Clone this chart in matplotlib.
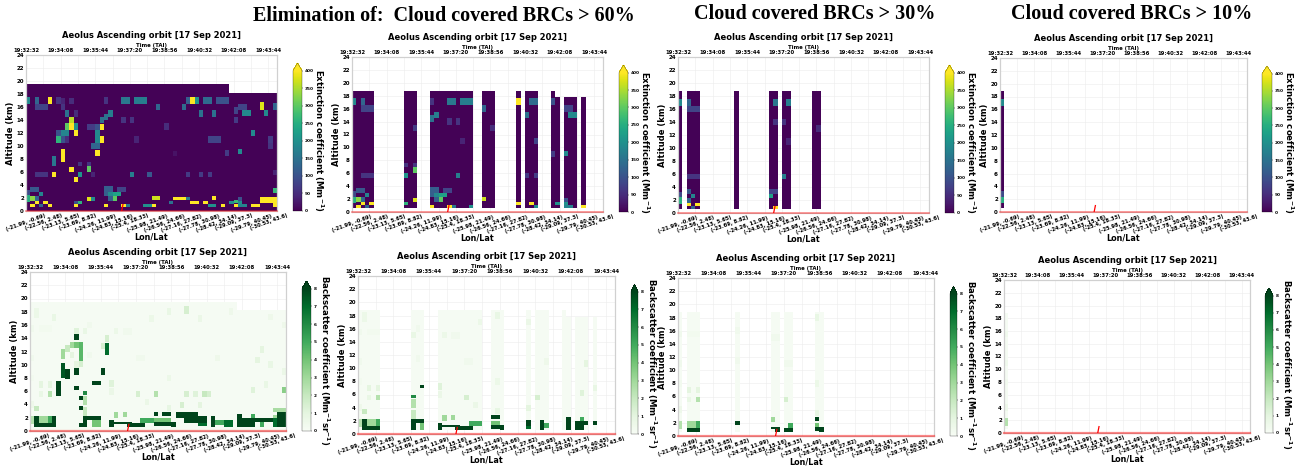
import numpy as np
import matplotlib
matplotlib.use("Agg")
import matplotlib.pyplot as plt

W, H = 1298, 471
plt.rcParams['font.family'] = ['DejaVu Sans']
plt.rcParams['font.weight'] = 'bold'
plt.rcParams['axes.labelweight'] = 'bold'
plt.rcParams['mathtext.default'] = 'bf'

TITLE = "Aeolus Ascending orbit [17 Sep 2021]"
TIME_LABELS = ["19:32:32", "19:34:08", "19:35:44", "19:37:20",
               "19:38:56", "19:40:32", "19:42:08", "19:43:44"]
LONLAT_LABELS = ["(-21.99, -0.69)", "(-22.56, 2.48)", "(-23.13, 5.65)", "(-23.69, 8.82)",
                 "(-24.26, 11.99)", "(-24.83, 15.16)", "(-25.4, 18.33)", "(-25.98, 21.49)",
                 "(-26.56, 24.66)", "(-27.16, 27.82)", "(-27.78, 30.98)", "(-28.42, 34.14)",
                 "(-29.09, 37.3)", "(-29.79, 40.45)", "(-30.53, 43.6)"]
HEADINGS = ["Elimination of:  Cloud covered BRCs > 60%",
            "Cloud covered BRCs > 30%", "Cloud covered BRCs > 10%"]

N_COLS = 58
# Profiles kept after each cloud-cover elimination threshold
KEPT_ALL = list(range(N_COLS))
KEPT_60 = [0, 1, 2, 3, 4, 12, 13, 14] + list(range(18, 28)) + [30, 31, 32, 38, 40, 41, 42, 46, 47, 49, 50, 51, 53]
KEPT_30 = [0, 2, 3, 4, 13, 21, 22, 24, 25, 31, 32]
KEPT_10 = [0]

EXT_BACKGROUND = 3.0
# column from, column to (inclusive), altitude bottom, altitude top, Mm-1
EXT_CELLS = [
    (0, 0, 16.5, 17.6, 190), (2, 2, 16.5, 17.6, 130), (7, 7, 16.5, 17.6, 60), (5, 5, 16.5, 17.6, 400),
    (8, 8, 16.5, 17.4, 40), (10, 10, 16.5, 17.4, 50), (18, 18, 16.5, 17.6, 60), (22, 23, 16.5, 17.6, 160),
    (25, 27, 16.5, 17.6, 170), (37, 37, 16.5, 17.6, 120), (38, 38, 16.5, 17.6, 400), (39, 39, 16.5, 17.6, 210),
    (41, 42, 16.5, 17.6, 140), (44, 46, 16.5, 17.6, 100),
    (2, 4, 15.5, 16.5, 80), (8, 8, 15.5, 16.5, 60), (30, 30, 15.5, 16.5, 130), (36, 36, 15.5, 16.5, 140),
    (48, 48, 15, 16, 80), (49, 50, 15.5, 16.5, 80), (54, 54, 15.6, 16.7, 380), (57, 57, 15.6, 16.6, 130),
    (9, 9, 14.5, 15.5, 150), (11, 11, 14.5, 15.5, 50), (19, 19, 14.5, 15.5, 170), (40, 40, 14.5, 15.5, 150),
    (43, 43, 14.5, 15.5, 150), (50, 51, 14.6, 15.5, 190), (55, 55, 14.6, 15.5, 190),
    (10, 10, 13.5, 14.5, 360), (18, 18, 14, 15, 150), (17, 17, 13.5, 14.4, 150), (22, 22, 13.5, 14.5, 60),
    (24, 24, 13.5, 14.5, 60), (48, 48, 13.5, 14.5, 70),
    (9, 9, 12.5, 13.5, 300), (10, 10, 12.5, 13.5, 400), (11, 11, 12.5, 13.5, 200), (14, 15, 12.5, 13.4, 70),
    (16, 16, 12.5, 13.4, 100), (17, 17, 12.5, 13.4, 400), (32, 32, 12.5, 13.5, 50),
    (7, 7, 11.5, 12.5, 100), (8, 9, 11.5, 12.5, 180), (11, 11, 11.5, 12.5, 400), (16, 16, 11.5, 12.5, 190),
    (52, 52, 11.5, 12.5, 190),
    (7, 7, 10.5, 11.5, 260), (8, 8, 10.5, 11.5, 100), (9, 9, 10.5, 11.5, 50), (16, 16, 10.5, 11.5, 190),
    (17, 17, 10.5, 11.5, 400), (25, 25, 10.5, 11.5, 40), (42, 44, 10.5, 11.5, 80), (56, 56, 10.5, 11.6, 70),
    (15, 16, 9.5, 10.5, 130), (56, 56, 9.6, 10.5, 60),
    (8, 8, 7.6, 9.5, 400), (16, 16, 8.5, 9.4, 400), (46, 46, 8.5, 9.4, 70), (49, 49, 8.7, 9.5, 190),
    (34, 34, 8.5, 9.2, 20),
    (6, 6, 6.9, 8.5, 160), (12, 12, 7, 7.6, 60), (14, 14, 7, 7.6, 60),
    (14, 14, 6, 6.9, 300), (10, 10, 6, 6.8, 400),
    (2, 4, 5.2, 6, 60), (6, 6, 5.2, 6, 400), (12, 12, 5.2, 6, 210), (15, 15, 5.2, 6, 40), (24, 24, 5.2, 6, 170),
    (28, 28, 5.2, 6, 110), (37, 37, 5.2, 6, 70), (40, 40, 5.2, 6, 70), (42, 42, 5.2, 6, 70), (57, 57, 5.5, 6.3, 40),
    (11, 11, 4.5, 5.3, 400),
    (1, 2, 3, 3.7, 110), (18, 19, 3, 3.8, 120), (21, 22, 3, 3.7, 80), (57, 57, 2.8, 3.6, 270),
    (0, 0, 2.4, 3.3, 90), (3, 3, 2.3, 3, 180), (18, 18, 2.3, 3, 120), (19, 19, 2.3, 3, 190), (20, 21, 2.3, 3, 230),
    (0, 0, 1.4, 2.4, 250), (1, 1, 1.6, 2.3, 330), (2, 2, 1.6, 2.3, 130), (14, 14, 1.6, 2.2, 380),
    (15, 15, 1.6, 2.2, 190), (20, 20, 1.6, 2.3, 300), (29, 30, 1.7, 2.3, 370), (34, 36, 1.7, 2.2, 400),
    (37, 37, 1.7, 2.2, 170), (43, 43, 1.7, 2.3, 400), (54, 57, 1.3, 2.2, 400), (19, 19, 1.6, 2.3, 120),
    (49, 49, 1.6, 2.2, 100),
    (2, 2, 1.1, 1.6, 400), (4, 4, 1.1, 1.6, 400), (12, 12, 1.1, 1.6, 260), (11, 11, 1.1, 1.6, 100),
    (33, 33, 1.1, 1.6, 150), (38, 39, 1.1, 1.6, 400), (41, 41, 1.1, 1.6, 400), (47, 47, 1.1, 1.6, 200),
    (48, 48, 1.2, 1.7, 270), (49, 49, 1.1, 1.6, 200),
    (1, 1, 0.6, 1.1, 400), (3, 3, 0.6, 1.1, 130), (5, 5, 0.6, 1.1, 400), (11, 11, 0.6, 1.1, 400),
    (18, 18, 0.6, 1.1, 400), (22, 22, 0.6, 1.1, 400), (23, 23, 0.6, 1.1, 160), (27, 28, 0.6, 1.1, 200),
    (29, 29, 0.6, 1.1, 400), (42, 43, 0.6, 1.1, 200), (45, 45, 0.6, 1.1, 400), (48, 48, 0.6, 1.1, 400),
    (49, 50, 0.6, 1.1, 180), (52, 53, 0.6, 1.1, 400), (57, 57, 0.6, 1.3, 400),
]

BSC_BACKGROUND = 0.1
# column from, column to (inclusive), altitude bottom, altitude top, Mm-1 sr-1
BSC_CELLS = [
    (0, 0, 1.1, 2.3, 2.5), (1, 5, 0.6, 1.2, 8), (1, 1, 1.2, 2.3, 8), (2, 3, 1.2, 2.3, 3), (4, 4, 1.2, 2.3, 5),
    (5, 5, 1.2, 2.3, 8),
    (11, 12, 0.6, 1.2, 8), (12, 12, 1.2, 2.3, 8), (13, 15, 1.6, 2.3, 8), (14, 15, 0.6, 1.6, 4),
    (18, 18, 0.6, 1.6, 8), (19, 22, 1.05, 1.45, 8), (19, 19, 1.9, 2.9, 3), (21, 21, 2.1, 2.9, 3),
    (22, 25, 0.65, 1.25, 8), (25, 28, 1.25, 2.0, 5), (28, 31, 0.75, 1.4, 8), (28, 31, 1.4, 2.0, 4),
    (28, 28, 2.3, 2.9, 8), (30, 31, 2.3, 2.9, 8), (32, 32, 0.6, 1.4, 8),
    (33, 35, 1.9, 2.9, 8), (35, 37, 1.2, 2.9, 8), (37, 39, 1.2, 2.2, 8), (38, 39, 0.7, 1.2, 7),
    (41, 41, 0.6, 2.2, 8), (42, 43, 0.9, 1.7, 5), (44, 45, 0.6, 1.6, 7),
    (47, 50, 0.6, 1.9, 8), (51, 54, 1.3, 1.9, 8), (52, 52, 0.6, 1.3, 5), (55, 55, 0.6, 1.9, 7), (56, 57, 0.6, 2.8, 8),
    (47, 47, 1.9, 2.6, 8), (50, 50, 1.9, 2.6, 5), (55, 55, 1.9, 2.4, 3),
    (55, 57, 2.8, 3.5, 2.8),
    (6, 6, 5.3, 7.5, 8), (7, 7, 8, 10.3, 7.5), (8, 8, 7.8, 9.3, 8), (10, 10, 6.2, 6.8, 8), (10, 10, 8.5, 9.5, 8),
    (11, 11, 4.7, 5.3, 8), (11, 11, 3.2, 3.8, 8), (12, 12, 5.4, 6.0, 6), (14, 15, 7, 7.5, 8), (16, 16, 8.5, 9.5, 8),
    (17, 17, 11.5, 13.3, 7), (10, 10, 13.8, 14.6, 8), (11, 11, 9.6, 10.6, 1.5), (11, 11, 10.6, 13.5, 4.5),
    (10, 10, 12.5, 13.5, 4), (9, 9, 12.5, 13.5, 3), (8, 8, 12, 13, 2), (7, 7, 10.8, 12.4, 3), (9, 9, 11, 12, 1),
    (10, 10, 9.5, 10.5, 1), (12, 12, 4, 5.3, 2.5), (12, 12, 2.3, 3.6, 2), (17, 17, 13.4, 14.5, 1.5), (16, 16, 12.4, 13.3, 1.5),
    (5, 5, 16.6, 17.6, 0.8), (1, 1, 17, 18.5, 0.6), (31, 31, 17.5, 18.5, 0.8), (35, 35, 17.7, 18.9, 1.5),
    (38, 38, 16.5, 17.5, 0.7), (27, 27, 16.5, 17.5, 0.6), (45, 45, 17.5, 18.5, 0.5), (54, 54, 16.7, 17.7, 0.5),
    (57, 57, 15.5, 16.5, 0.5), (10, 10, 14.6, 15.5, 1.2), (12, 12, 14.6, 15.5, 0.8), (19, 19, 14.6, 15.5, 0.6),
    (25, 25, 10.5, 11.5, 0.8), (42, 42, 10.5, 11.5, 0.5), (52, 52, 11.8, 12.8, 1), (51, 51, 10.2, 11.2, 1),
    (54, 54, 9.5, 10.5, 0.8), (57, 57, 8.5, 9.5, 0.7), (2, 2, 6.5, 7.5, 1), (18, 18, 6.7, 7.7, 1.2),
    (18, 18, 5.5, 6.5, 0.7), (53, 53, 6.5, 7.5, 0.8), (50, 50, 5.8, 6.7, 1.2), (2, 2, 5.2, 6, 0.8), (4, 4, 5.2, 6, 2.5),
    (24, 24, 5.2, 6, 1.5), (28, 28, 5.2, 6, 2.5), (35, 35, 5.2, 6, 1.5), (37, 37, 5.2, 6, 1.2), (39, 39, 5.2, 6, 2),
    (40, 40, 5.2, 6, 1.5), (57, 57, 5.8, 6.7, 3.5), (1, 1, 3, 3.8, 2), (34, 34, 3.5, 4.4, 1.5), (38, 38, 3.5, 4.4, 1),
    (26, 26, 4, 4.9, 0.7), (4, 4, 6.5, 7.5, 1),
    (2, 4, 15, 16, 0.3), (13, 13, 15.5, 16.5, 0.4), (21, 22, 14.5, 15.5, 0.4), (13, 13, 11, 12, 0.4),
    (0, 0, 15, 16, 0.4), (0, 0, 10.5, 11.5, 0.4), (0, 0, 7.5, 8.5, 0.3), (0, 0, 3.5, 4.5, 0.5),
    (31, 31, 7.5, 8.5, 0.6), (31, 31, 3, 4, 0.9), (24, 25, 10.5, 11.5, 0.4),
]

# Heights of the profile stacks (km)
TOP_FULL = 19.5
TOP_FULL_LATE = 18.2
TOP_FILTERED = 18.8
TOP_FILTERED_LATE = 17.8
BOTTOM_FILTERED = 0.6
LATE_FROM = 47
RED_COLUMN = 22.4
RED_TOP = 1.0

# axes box in pixels: left, right, top, bottom; colourbar: left, right, tip
EXT_PANELS = [
    (26, 277, 55, 211, 293, 302, 55, KEPT_ALL),
    (352, 603, 57, 212, 619, 628, 57, KEPT_60),
    (678, 929, 57, 213, 945, 954, 57, KEPT_30),
    (1000, 1247, 58, 212, 1262, 1272, 58, KEPT_10),
]
BSC_PANELS = [
    (30, 286, 272, 431, 302, 311, 273, KEPT_ALL),
    (358, 615, 276, 434, 631, 638, 276, KEPT_60),
    (678, 934, 278, 436, 950, 957, 278, KEPT_30),
    (1004, 1250, 280, 433, 1265, 1273, 280, KEPT_10),
]


def grid_from(cells, background, kept):
    dy = 0.1
    yedges = np.arange(0, 20.0 + dy / 2, dy)
    ymid = 0.5 * (yedges[:-1] + yedges[1:])
    grid = np.full((len(ymid), N_COLS), background, dtype=float)
    for c0, c1, y0, y1, v in cells:
        grid[(ymid >= y0) & (ymid < y1), c0:c1 + 1] = v
    filtered = len(kept) < N_COLS
    for c in range(N_COLS):
        if filtered:
            top = TOP_FILTERED if c < LATE_FROM else TOP_FILTERED_LATE
            bottom = BOTTOM_FILTERED
        else:
            top = TOP_FULL if c < LATE_FROM else TOP_FULL_LATE
            bottom = 0.0
        grid[(ymid > top) | (ymid < bottom), c] = np.nan
        if c not in kept:
            grid[:, c] = np.nan
    return np.arange(N_COLS + 1), yedges, grid


def px_axes(fig, l, r, t, b):
    return fig.add_axes([l / W, 1 - b / H, (r - l) / W, (b - t) / H])


def draw_panel(fig, box, cells, background, cmap, vmax, cticks, clabel, bottom_panel):
    l, r, t, b, cl, cr, ctip, kept = box
    ax = px_axes(fig, l, r, t, b)
    x, y, g = grid_from(cells, background, kept)
    mesh = ax.pcolormesh(x, y, g, cmap=cmap, vmin=0, vmax=vmax, zorder=2)
    ax.set_xlim(0, N_COLS)
    ax.set_ylim(0, 24)
    ax.set_yticks(range(0, 25, 2))
    ax.tick_params(axis='y', labelsize=4, length=0, pad=1.5)
    ax.set_xticks(range(0, 57, 4))
    ax.set_xticklabels(LONLAT_LABELS, rotation=20, ha='center', fontsize=3.7)
    ax.tick_params(axis='x', length=0, pad=1.5)
    ax.grid(color='#ececec', lw=0.4, zorder=0)
    ax.set_axisbelow(True)
    ax.set_ylabel("Altitude (km)", fontsize=6, labelpad=0.8)
    ax.set_xlabel("Lon/Lat", fontsize=5.8, labelpad=0.2)
    ax.set_title(TITLE, fontsize=6.05, fontweight='bold', y=1.0, pad=12)
    for s in ax.spines.values():
        s.set_color('#d0d0d0')
        s.set_linewidth(0.9)
    ax.plot([0, N_COLS], [0, 0], color='red', alpha=0.45, lw=1.6 if bottom_panel else 1.2, zorder=4, clip_on=False)
    ax.plot([RED_COLUMN - 0.3, RED_COLUMN], [0, RED_TOP], color='red', lw=0.9, zorder=5)

    top = ax.twiny()
    top.set_xlim(0, N_COLS)
    top.set_xticks(range(0, 57, 8))
    top.set_xticklabels(TIME_LABELS, fontsize=3.8)
    top.tick_params(axis='x', length=0, pad=1.5)
    top.set_xlabel("Time (TAI)", fontsize=3.9, labelpad=1.0)
    for s in top.spines.values():
        s.set_visible(False)

    tip_px = 8
    cax = px_axes(fig, cl, cr, ctip + tip_px, b)
    cb = fig.colorbar(mesh, cax=cax, extend='max', extendfrac=tip_px / (b - ctip - tip_px))
    cb.set_ticks(cticks)
    cb.ax.tick_params(labelsize=3.1, length=1, width=0.3, pad=0.8)
    cb.outline.set_linewidth(0.2)
    cb.set_label(clabel, rotation=270, fontsize=6.2, labelpad=10.5 if bottom_panel else 8.5, fontweight='bold')


fig = plt.figure(figsize=(W / 100, H / 100), dpi=100)
for box in EXT_PANELS:
    draw_panel(fig, box, EXT_CELLS, EXT_BACKGROUND, 'viridis', 400, list(range(0, 401, 50)),
               r"Extinction coefficient (Mm$^{-1}$)", False)
for box in BSC_PANELS:
    draw_panel(fig, box, BSC_CELLS, BSC_BACKGROUND, 'Greens', 8, list(range(0, 9)),
               r"Backscatter coefficient (Mm$^{-1}$sr$^{-1}$)", True)

serif = ['Liberation Serif', 'DejaVu Serif']
fig.text(443.5 / W, 1 - 16 / H, HEADINGS[0], family=serif, fontweight='bold', fontsize=14.5, ha='center', va='center')
fig.text(815 / W, 1 - 14 / H, HEADINGS[1], family=serif, fontweight='bold', fontsize=14.5, ha='center', va='center')
fig.text(1132 / W, 1 - 14 / H, HEADINGS[2], family=serif, fontweight='bold', fontsize=14.5, ha='center', va='center')

fig.savefig("out.png", dpi=100)
